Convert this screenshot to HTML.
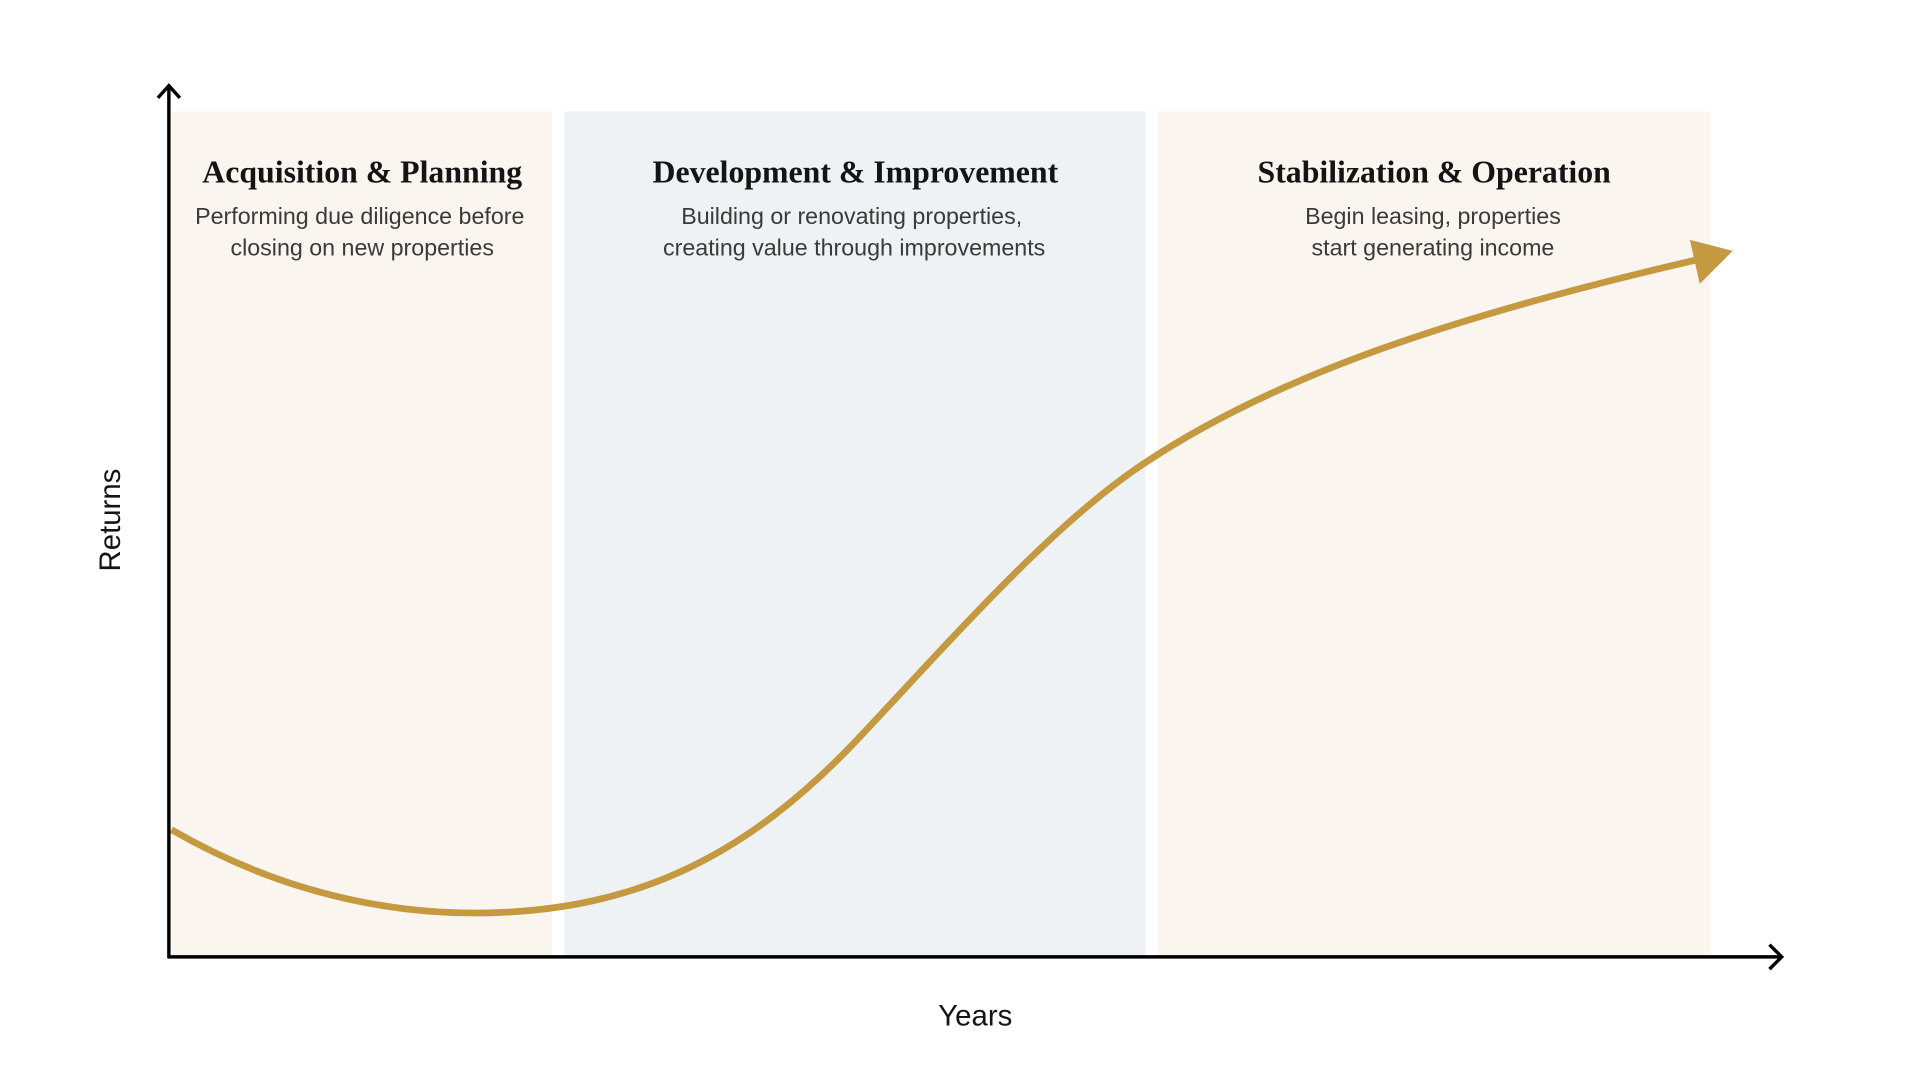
<!DOCTYPE html>
<html><head><meta charset="utf-8"><style>
html,body{margin:0;padding:0;background:#fff}
svg{display:block}
.t{font-family:"Liberation Serif",serif;font-weight:bold;font-size:26px;fill:#141414}
.s{font-family:"Liberation Sans",sans-serif;font-size:19px;fill:#3a3a3a}
.a{font-family:"Liberation Sans",sans-serif;font-size:24px;fill:#141414}
</style></head><body>
<svg width="1920" height="1080" viewBox="0 0 1569 882.6" preserveAspectRatio="none" xmlns="http://www.w3.org/2000/svg">
<rect x="140" y="91" width="311" height="691" fill="#faf6ef"/>
<rect x="461" y="91" width="475" height="691" fill="#eef2f5"/>
<rect x="946" y="91" width="452" height="691" fill="#faf6ef"/>
<path d="M140,678 C230,730 320,748 400,746 C520,743 610,700 700,605 C780,520 860,428 936,378 C1040,309 1180,260 1388,212" fill="none" stroke="#c4993f" stroke-width="5.5"/>
<polygon points="1416,205 1381,196 1389,232" fill="#c4993f"/>
<g stroke="#000" stroke-width="2.8" fill="none">
<line x1="138" y1="71" x2="138" y2="783"/>
<line x1="137" y1="782" x2="1456" y2="782"/>
<polyline points="129,80 138,70 147,80"/>
<polyline points="1446,772 1456,782 1446,792"/>
</g>
<text class="t" x="296" y="149" text-anchor="middle">Acquisition &amp; Planning</text>
<text class="s" x="294" y="183" text-anchor="middle">Performing due diligence before</text>
<text class="s" x="296" y="209" text-anchor="middle">closing on new properties</text>
<text class="t" x="699" y="149" text-anchor="middle">Development &amp; Improvement</text>
<text class="s" x="696" y="183" text-anchor="middle">Building or renovating properties,</text>
<text class="s" x="698" y="209" text-anchor="middle">creating value through improvements</text>
<text class="t" x="1172" y="149" text-anchor="middle">Stabilization &amp; Operation</text>
<text class="s" x="1171" y="183" text-anchor="middle">Begin leasing, properties</text>
<text class="s" x="1171" y="209" text-anchor="middle">start generating income</text>
<text class="a" x="797" y="838" text-anchor="middle">Years</text>
<text class="a" transform="translate(98,425) rotate(-90)" text-anchor="middle">Returns</text>
</svg>
</body></html>
